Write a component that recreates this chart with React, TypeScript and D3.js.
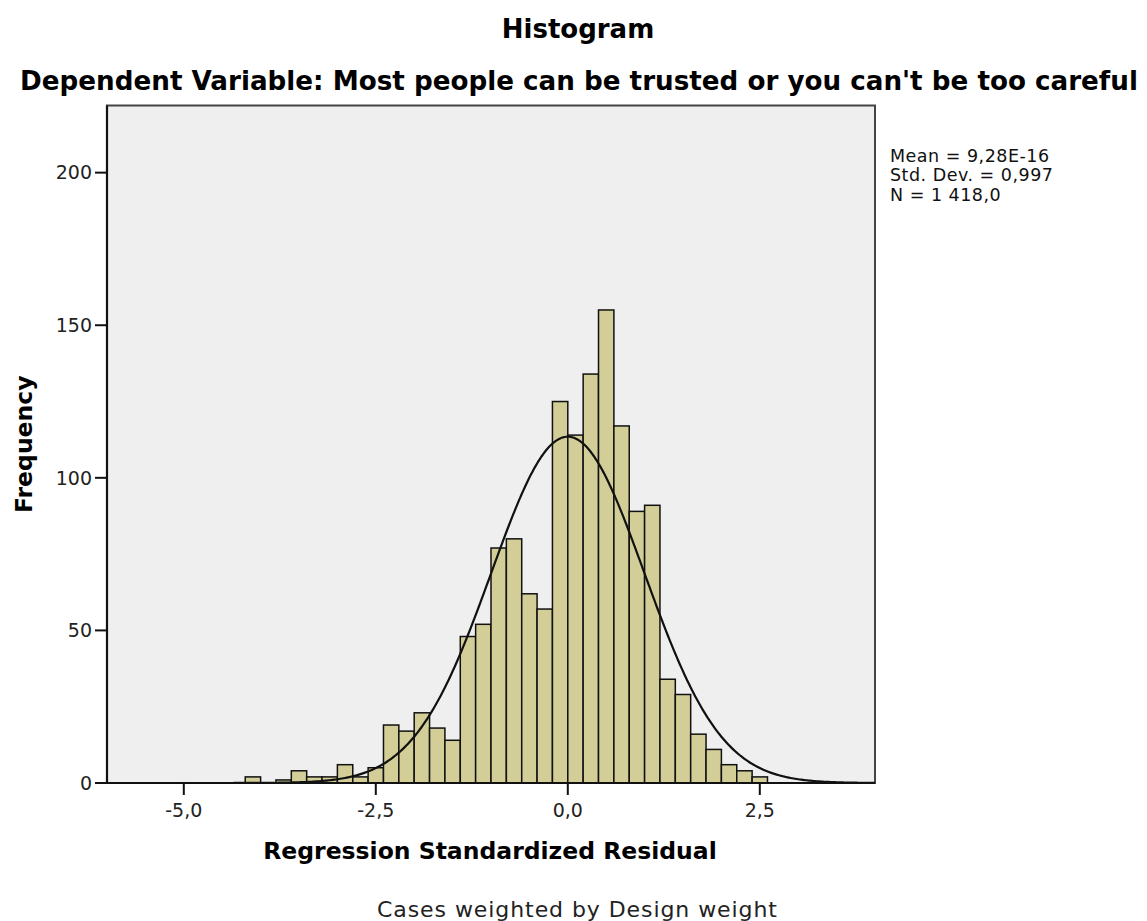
import * as d3 from "d3";

// histogram of regression standardized residuals (bin width 0.2, first bin starts at -4.2)
const binStart = -4.2;
const binWidth = 0.2;
const counts = [
  2, 0, 1, 4, 2, 2, 6, 2, 5, 19, 17, 23, 18, 14, 48, 52, 77, 80, 62, 57, 125,
  114, 134, 155, 117, 89, 91, 34, 29, 16, 11, 6, 4, 2,
];

const xTicks = [-5, -2.5, 0, 2.5];
const xTickLabels = ["-5,0", "-2,5", "0,0", "2,5"];
const yTicks = [0, 50, 100, 150, 200];

const mean = 9.28e-16;
const stdDev = 0.997;
const nCases = 1418;
const statLines = ["Mean = 9,28E-16", "Std. Dev. = 0,997", "N = 1 418,0"];

const title = "Histogram";
const subtitle =
  "Dependent Variable: Most people can be trusted or you can't be too careful";
const xTitle = "Regression Standardized Residual";
const yTitle = "Frequency";
const footnote = "Cases weighted by Design weight";

const W = 1147;
const H = 921;
const plot = { left: 107, right: 875, top: 105.5, bottom: 783 };
const font = "'DejaVu Sans', Verdana, sans-serif";

export default function App() {
  const x = d3.scaleLinear().domain([-6, 4]).range([plot.left, plot.right]);
  const y = d3.scaleLinear().domain([0, 222]).range([plot.bottom, plot.top]);

  const bins = counts.map((c, i) => ({
    x0: binStart + i * binWidth,
    x1: binStart + (i + 1) * binWidth,
    count: c,
  }));

  // fitted normal curve, scaled to counts per bin
  const pdf = (v: number) =>
    ((nCases * binWidth) / (stdDev * Math.sqrt(2 * Math.PI))) *
    Math.exp(-0.5 * ((v - mean) / stdDev) ** 2);
  const curvePts = d3.range(-6, 4.0001, 0.02).map((v) => [v, pdf(v)] as [number, number]);
  const line = d3
    .line<[number, number]>()
    .x((d) => x(d[0]))
    .y((d) => y(d[1]));

  const tickLen = 12;

  return (
    <svg
      width={W}
      height={H}
      style={{ position: "absolute", left: 0, top: 0, background: "#fff" }}
      fontFamily={font}
    >
      <text x={578} y={38} textAnchor="middle" fontSize={26} fontWeight="bold">
        {title}
      </text>
      <text x={579} y={90} textAnchor="middle" fontSize={26.2} fontWeight="bold">
        {subtitle}
      </text>

      <rect
        x={plot.left}
        y={plot.top}
        width={plot.right - plot.left}
        height={plot.bottom - plot.top}
        fill="#efefef"
        stroke="#444"
        strokeWidth={2}
      />

      <g>
        {bins
          .filter((b) => b.count > 0)
          .map((b, i) => (
            <rect
              key={i}
              x={x(b.x0)}
              y={y(b.count)}
              width={x(b.x1) - x(b.x0)}
              height={y(0) - y(b.count)}
              fill="#d3ce97"
              stroke="#111"
              strokeWidth={1.5}
            />
          ))}
      </g>

      <path d={line(curvePts) ?? ""} fill="none" stroke="#111" strokeWidth={2.2} />

      {/* axes */}
      <line x1={plot.left} x2={plot.left} y1={plot.top} y2={plot.bottom} stroke="#111" strokeWidth={2.2} />
      <line x1={plot.left} x2={plot.right} y1={plot.bottom} y2={plot.bottom} stroke="#111" strokeWidth={2.2} />

      {yTicks.map((t) => (
        <g key={t}>
          <line x1={plot.left - tickLen} x2={plot.left} y1={y(t)} y2={y(t)} stroke="#111" strokeWidth={2} />
          <text x={plot.left - tickLen - 3} y={y(t)} dy="0.36em" textAnchor="end" fontSize={19} fill="#222">
            {t}
          </text>
        </g>
      ))}

      {xTicks.map((t, i) => (
        <g key={t}>
          <line x1={x(t)} x2={x(t)} y1={plot.bottom} y2={plot.bottom + tickLen} stroke="#111" strokeWidth={2} />
          <text x={x(t)} y={817} textAnchor="middle" fontSize={19} fill="#222">
            {xTickLabels[i]}
          </text>
        </g>
      ))}

      <text
        transform={`translate(32,${(plot.top + plot.bottom) / 2}) rotate(-90)`}
        textAnchor="middle"
        fontSize={23.5}
        fontWeight="bold"
      >
        {yTitle}
      </text>
      <text x={490} y={859} textAnchor="middle" fontSize={23.5} fontWeight="bold">
        {xTitle}
      </text>
      <text x={577} y={917} textAnchor="middle" fontSize={22} textLength={400} lengthAdjust="spacing" fill="#222">
        {footnote}
      </text>

      {statLines.map((s, i) => (
        <text key={s} x={890} y={161.5 + i * 19.5} fontSize={17.5} letterSpacing={0.5} fill="#111">
          {s}
        </text>
      ))}
    </svg>
  );
}
